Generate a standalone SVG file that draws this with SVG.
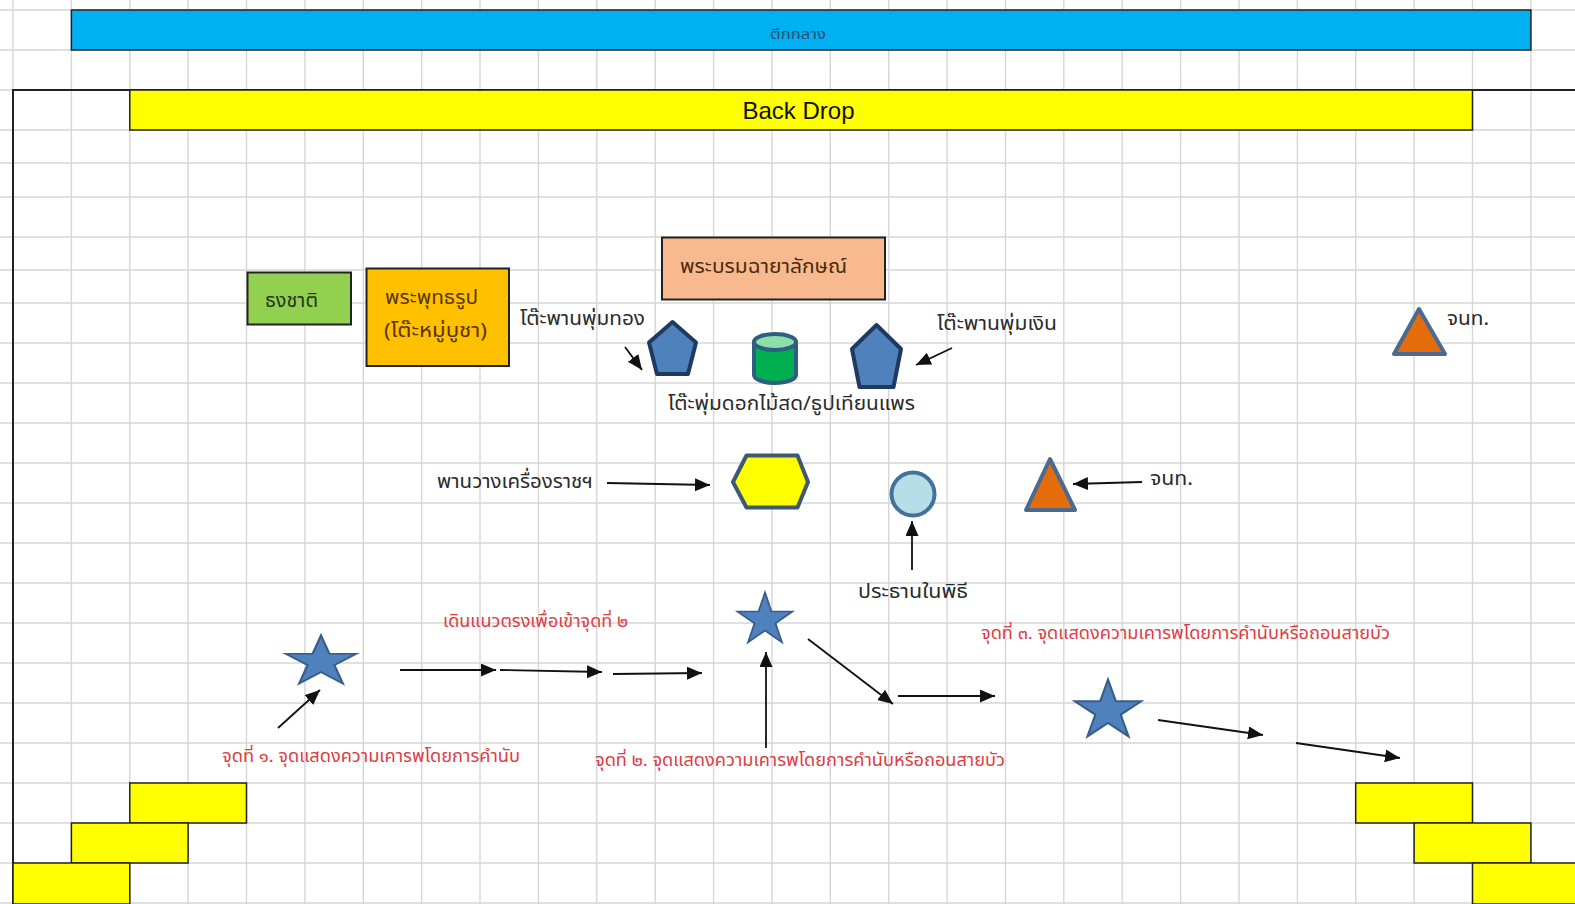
<svg xmlns="http://www.w3.org/2000/svg" width="1575" height="904" viewBox="0 0 1575 904">
<defs>
<style>
.grid{stroke:#d6d6d6;stroke-width:1.4;fill:none}
.border{stroke:#222;stroke-width:2;fill:none}
.bar{stroke:#222;stroke-width:1.5}
.stair{fill:#ffff00;stroke:#222;stroke-width:1.5}
.lbl{font-family:'Noto Sans Thai','Noto Sans','DejaVu Sans',sans-serif;font-size:20px;fill:#2b2b2b}
.red{font-family:'Noto Sans Thai','Noto Sans','DejaVu Sans',sans-serif;font-size:17px;fill:#e23b43}
.star{fill:#4f81bd;stroke:#385d8a;stroke-width:2}
.pent{fill:#4f81bd;stroke:#1f3a60;stroke-width:4;stroke-linejoin:round}
.tri{fill:#e46c0a;stroke:#4a6a92;stroke-width:4;stroke-linejoin:round}
.con{stroke:#111;stroke-width:1.8;fill:none;marker-end:url(#ah)}
</style>
<marker id="ah" markerUnits="userSpaceOnUse" markerWidth="16" markerHeight="14" refX="15" refY="6.5" orient="auto">
<path d="M0,0 L15,6.5 L0,13 z" fill="#111"/>
</marker>
<path id="starShape" d="M0,-32 L7.18,-9.89 L30.43,-9.89 L11.62,3.78 L18.82,25.89 L0,12.22 L-18.82,25.89 L-11.62,3.78 L-30.43,-9.89 L-7.18,-9.89 Z"/>
</defs>
<rect width="1575" height="904" fill="#ffffff"/>
<path class="grid" d="M13,0V904M71.4,0V904M129.8,0V904M188.1,0V904M246.5,0V904M304.9,0V904M363.3,0V904M421.7,0V904M480,0V904M538.4,0V904M596.8,0V904M655.2,0V904M713.6,0V904M771.9,0V904M830.3,0V904M888.7,0V904M947.1,0V904M1005.5,0V904M1063.8,0V904M1122.2,0V904M1180.6,0V904M1239,0V904M1297.4,0V904M1355.7,0V904M1414.1,0V904M1472.5,0V904M1530.9,0V904M0,10H1575M0,50H1575M0,90H1575M0,130H1575M0,163H1575M0,197H1575M0,237H1575M0,270H1575M0,303H1575M0,343H1575M0,383H1575M0,423H1575M0,463H1575M0,503H1575M0,543H1575M0,583H1575M0,623H1575M0,663H1575M0,703H1575M0,743H1575M0,783H1575M0,823H1575M0,863H1575M0,903H1575"/>
<path class="border" d="M13,904V90H1575"/>

<g id="building">
<rect class="bar" x="71.4" y="10" width="1459.5" height="40" fill="#00b0f0"/>
<text x="798" y="39" text-anchor="middle" class="lbl" style="font-size:14px;fill:#2f4d6b" textLength="56" lengthAdjust="spacingAndGlyphs">ตึกกลาง</text>
</g>
<g id="backdrop">
<rect class="bar" x="129.8" y="90" width="1342.7" height="40" fill="#ffff00"/>
<text x="798.5" y="119" text-anchor="middle" font-family="'Liberation Sans',Arial,sans-serif" font-size="24" fill="#111">Back Drop</text>
</g>

<g id="stairs-left">
<rect class="stair" x="129.8" y="783" width="116.7" height="40"/>
<rect class="stair" x="71.4" y="823" width="116.7" height="40"/>
<rect class="stair" x="13" y="863" width="116.8" height="41"/>
</g>
<g id="stairs-right">
<rect class="stair" x="1355.7" y="783" width="116.8" height="40"/>
<rect class="stair" x="1414.1" y="823" width="116.8" height="40"/>
<rect class="stair" x="1472.5" y="863" width="110" height="41"/>
</g>

<g id="flag">
<rect x="247.5" y="272.5" width="103.5" height="52" fill="#92d050" stroke="#222" stroke-width="2"/>
<text x="265" y="307" class="lbl" style="fill:#22361a" textLength="53" lengthAdjust="spacingAndGlyphs">ธงชาติ</text>
</g>
<g id="buddha">
<rect x="366.5" y="268.5" width="142.5" height="97.5" fill="#ffc000" stroke="#222" stroke-width="2"/>
<text x="385" y="304" class="lbl" style="fill:#5a3500" textLength="93" lengthAdjust="spacingAndGlyphs">พระพุทธรูป</text>
<text x="384" y="337" class="lbl" style="fill:#5a3500" textLength="103" lengthAdjust="spacingAndGlyphs">(โต๊ะหมู่บูชา)</text>
</g>
<g id="portrait">
<rect x="662" y="237.5" width="223" height="62" fill="#f8b98e" stroke="#222" stroke-width="2"/>
<text x="680" y="273" class="lbl" style="fill:#4a2a10" textLength="167" lengthAdjust="spacingAndGlyphs">พระบรมฉายาลักษณ์</text>
</g>

<g id="gold-tray">
<polygon class="pent" points="672.5,322 696,342.5 688,374 657,374 649,342.5"/>
<text x="520" y="325" class="lbl" textLength="125" lengthAdjust="spacingAndGlyphs">โต๊ะพานพุ่มทอง</text>
</g>
<g id="flower-table">
<path d="M754,342 V375 A21,8 0 0 0 796,375 V342 Z" fill="#00b050" stroke="#2f5f7f" stroke-width="4" stroke-linejoin="round"/>
<ellipse cx="775" cy="342" rx="21" ry="8" fill="#8ddfa8" stroke="#2f5f7f" stroke-width="4"/>
<text x="668" y="410" class="lbl" textLength="247" lengthAdjust="spacingAndGlyphs">โต๊ะพุ่มดอกไม้สด/ธูปเทียนแพร</text>
</g>
<g id="silver-tray">
<polygon class="pent" points="876.5,325 901,349 893.5,387 859.5,387 852,349"/>
<text x="937" y="330" class="lbl" textLength="120" lengthAdjust="spacingAndGlyphs">โต๊ะพานพุ่มเงิน</text>
</g>
<g id="staff-top">
<polygon class="tri" points="1419,309 1445,354 1394,354"/>
<text x="1447" y="325" class="lbl" textLength="42" lengthAdjust="spacingAndGlyphs">จนท.</text>
</g>

<g id="royal-tray">
<polygon points="733,482 746.5,455.5 797.5,455.5 808,482 797.5,507.5 746.5,507.5" fill="#ffff00" stroke="#3f5873" stroke-width="4" stroke-linejoin="round"/>
<text x="437" y="488" class="lbl" textLength="156" lengthAdjust="spacingAndGlyphs">พานวางเครื่องราชฯ</text>
</g>
<g id="chairman">
<circle cx="913" cy="494" r="21.5" fill="#b7dde8" stroke="#41719c" stroke-width="4"/>
<text x="858" y="598" class="lbl" textLength="110" lengthAdjust="spacingAndGlyphs">ประธานในพิธี</text>
</g>
<g id="staff-mid">
<polygon class="tri" points="1050,459 1075,510 1026,510"/>
<text x="1150" y="485" class="lbl" textLength="43" lengthAdjust="spacingAndGlyphs">จนท.</text>
</g>

<g id="point1">
<use href="#starShape" class="star" transform="translate(321,662) scale(1.16,0.83)"/>
<text x="222" y="762" class="red" textLength="298" lengthAdjust="spacingAndGlyphs">จุดที่ ๑. จุดแสดงความเคารพโดยการคำนับ</text>
</g>
<g id="walk-label">
<text x="443" y="627" class="red" textLength="185" lengthAdjust="spacingAndGlyphs">เดินแนวตรงเพื่อเข้าจุดที่ ๒</text>
</g>
<g id="point2">
<use href="#starShape" class="star" transform="translate(765,620) scale(0.9,0.86)"/>
<text x="595" y="766" class="red" textLength="410" lengthAdjust="spacingAndGlyphs">จุดที่ ๒. จุดแสดงความเคารพโดยการคำนับหรือถอนสายบัว</text>
</g>
<g id="point3">
<use href="#starShape" class="star" transform="translate(1108,711) scale(1.09,0.98)"/>
<text x="981" y="639" class="red" textLength="409" lengthAdjust="spacingAndGlyphs">จุดที่ ๓. จุดแสดงความเคารพโดยการคำนับหรือถอนสายบัว</text>
</g>

<g id="connectors">
<line class="con" x1="625" y1="347" x2="642" y2="370"/>
<line class="con" x1="952" y1="348" x2="916" y2="365"/>
<line class="con" x1="607" y1="483" x2="710" y2="485"/>
<line class="con" x1="912" y1="570" x2="912" y2="521"/>
<line class="con" x1="1142" y1="482" x2="1073" y2="484"/>
<line class="con" x1="278" y1="728" x2="320" y2="690"/>
<line class="con" x1="400" y1="670" x2="496" y2="670"/>
<line class="con" x1="500" y1="670" x2="602" y2="672"/>
<line class="con" x1="613" y1="674" x2="702" y2="673"/>
<line class="con" x1="766" y1="748" x2="766" y2="652"/>
<line class="con" x1="808" y1="639" x2="893" y2="704"/>
<line class="con" x1="898" y1="696" x2="995" y2="696"/>
<line class="con" x1="1158" y1="720" x2="1263" y2="735"/>
<line class="con" x1="1296" y1="743" x2="1400" y2="758"/>
</g>
</svg>
